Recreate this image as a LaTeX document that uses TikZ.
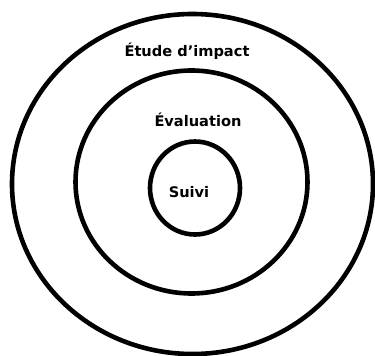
\documentclass[tikz,border=0pt]{standalone}
\usepackage{fontspec}
\setmainfont{DejaVu Sans}
\begin{document}
\begin{tikzpicture}[x=1pt,y=-1pt,
  ring/.style={draw=black,line width=4.6pt},
  lbl/.style={font=\bfseries\fontsize{14.6}{17}\selectfont,anchor=base,inner sep=0pt}]
\useasboundingbox (0,0) rectangle (375,356);
\fill[white] (0,0) rectangle (375,356);
\draw[ring] (192.5,184) ellipse (180.5 and 170);
\draw[ring] (191.5,182) ellipse (116 and 111.5);
\draw[ring] (195,188) ellipse (45 and 46.5);
\node[lbl] (etude) at (187,56) {Étude d’impact};
\node[lbl] (eval) at (198,126) {Évaluation};
\node[lbl] (suivi) at (189,197) {Suivi};
\end{tikzpicture}
\end{document}
